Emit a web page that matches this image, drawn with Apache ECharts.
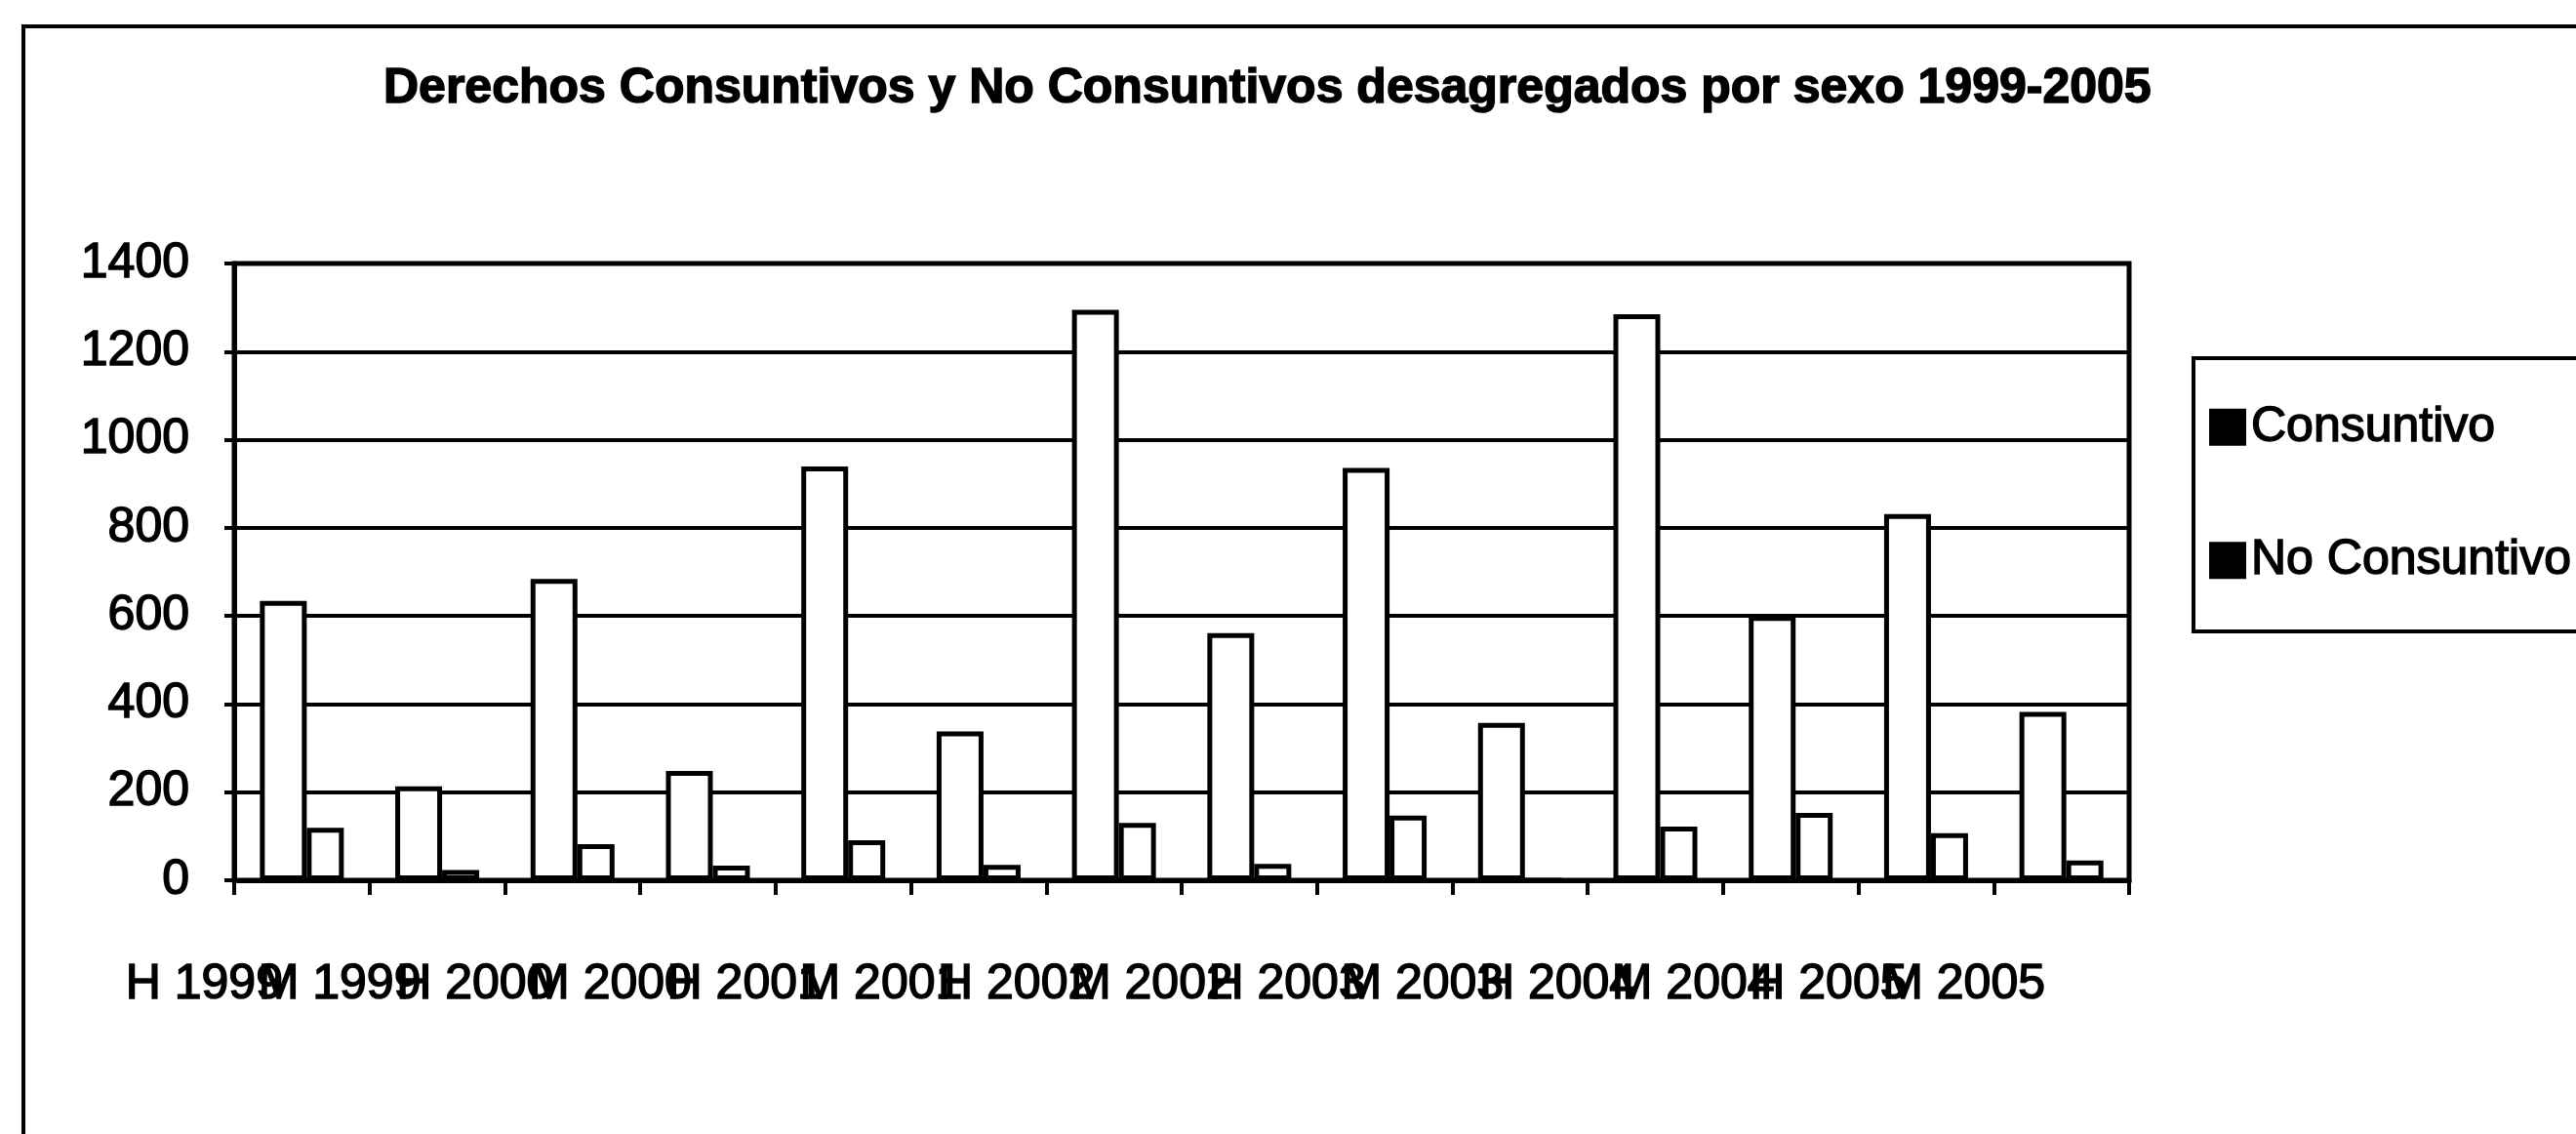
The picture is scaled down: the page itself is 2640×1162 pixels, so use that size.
<!DOCTYPE html>
<html>
<head>
<meta charset="utf-8">
<title>Derechos Consuntivos y No Consuntivos</title>
<script src="https://cdn.jsdelivr.net/npm/echarts@6/dist/echarts.min.js"></script>
<style>
  html, body { margin: 0; padding: 0; background: #fff; }
  #chart { width: 2640px; height: 1162px; }
</style>
</head>
<body>
<div id="chart"></div>
<script>
// H = hombres, M = mujeres
const categories = ['H 1999', 'M 1999', 'H 2000', 'M 2000', 'H 2001', 'M 2001', 'H 2002',
                    'M 2002', 'H 2003', 'M 2003', 'H 2004', 'M 2004', 'H 2005', 'M 2005'];
const consuntivo   = [634, 213, 684, 248, 939, 338, 1295, 561, 936, 357, 1285, 600, 831, 382];
const noConsuntivo = [119,  23,  82,  33,  91,  35,  130,  37, 147,   0,  122, 153, 107,  45];
const seriesNames = ['Consuntivo', 'No Consuntivo'];
const yMin = 0, yMax = 1400, yStep = 200;

const font = "'Liberation Sans', Arial, sans-serif";
// the scanned original has heavy strokes, thicken the text a little
const ink = { textBorderColor: '#000', textBorderWidth: 1.5 };

let chartDom = document.getElementById('chart');
let chart = echarts.init(chartDom);

let barStyle = {
  color: '#fff',
  borderColor: '#000',
  borderWidth: 5
};

let option = {
  animation: false,
  backgroundColor: '#fff',
  textStyle: { fontFamily: font, color: '#000' },
  title: {
    text: 'Derechos Consuntivos y No Consuntivos desagregados por sexo 1999-2005',
    left: 393,
    top: 66,
    padding: 0,
    textStyle: Object.assign({ fontFamily: font, fontSize: 50, fontWeight: 'bold', color: '#000' }, ink)
  },
  // outer frame of the chart
  graphic: [{
    type: 'rect',
    shape: { x: 24, y: 27, width: 2700, height: 1200 },
    style: { fill: 'none', stroke: '#000', lineWidth: 4 }
  }],
  legend: {
    orient: 'vertical',
    left: 2248,
    top: 367,
    padding: [45, 60, 47, 16],
    itemGap: 85,
    itemWidth: 38,
    itemHeight: 38,
    icon: 'rect',
    borderColor: '#000',
    borderWidth: 4,
    textStyle: Object.assign({ fontFamily: font, fontSize: 50, color: '#000' }, ink),
    data: [
      { name: seriesNames[0], itemStyle: { color: '#000', borderWidth: 0 } },
      { name: seriesNames[1], itemStyle: { color: '#000', borderWidth: 0 } }
    ]
  },
  grid: {
    left: 240,
    top: 270,
    width: 1942,
    height: 632,
    show: true,
    borderColor: '#000',
    borderWidth: 5
  },
  xAxis: {
    type: 'category',
    data: categories,
    axisLine: { lineStyle: { color: '#000', width: 5 } },
    axisTick: { show: true, length: 15, lineStyle: { color: '#000', width: 4 } },
    axisLabel: Object.assign({
      interval: 0,
      hideOverlap: false,
      fontFamily: font,
      fontSize: 50,
      color: '#000',
      margin: 82,
      align: 'center',
      padding: [0, 200, 0, 0]
    }, ink)
  },
  yAxis: {
    type: 'value',
    min: yMin,
    max: yMax,
    interval: yStep,
    axisLine: { show: true, lineStyle: { color: '#000', width: 5 } },
    axisTick: { show: true, length: 10, lineStyle: { color: '#000', width: 4 } },
    splitLine: { lineStyle: { color: '#000', width: 4 } },
    axisLabel: Object.assign({
      fontFamily: font,
      fontSize: 50,
      color: '#000',
      margin: 46,
      formatter: function (v) { return String(v); }
    }, ink)
  },
  series: [
    {
      name: seriesNames[0],
      type: 'bar',
      barWidth: 48,
      barGap: '0%',
      itemStyle: barStyle,
      data: consuntivo
    },
    {
      name: seriesNames[1],
      type: 'bar',
      barWidth: 38,
      barGap: '0%',
      itemStyle: barStyle,
      data: noConsuntivo
    }
  ]
};

chart.setOption(option);
</script>
</body>
</html>
